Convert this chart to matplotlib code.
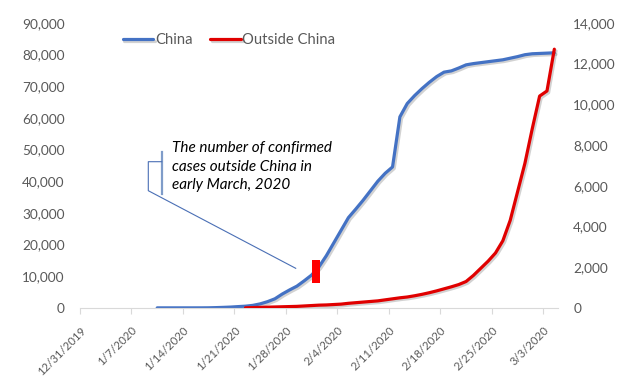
import matplotlib
matplotlib.use("Agg")
import matplotlib.pyplot as plt
import matplotlib.dates as mdates
import matplotlib.patheffects as pe
from matplotlib.lines import Line2D
from matplotlib.patches import Rectangle
from matplotlib.ticker import FuncFormatter, MultipleLocator
from matplotlib.transforms import ScaledTranslation
import pandas as pd

# Confirmed cases, China (left axis), daily from 1/10/2020
china_start = "2020-01-10"
china_cases = [41, 41, 41, 41, 41, 41, 45, 62, 121, 198,
               291, 440, 571, 830, 1300, 2000, 2900, 4400, 5700, 6900,
               8600, 10400, 13000, 16500, 20500, 24500, 28500, 31200, 34000, 37000,
               40000, 42500, 44500, 60300, 64500, 67000, 69200, 71200, 73000, 74400,
               74800, 75700, 76700, 77100, 77400, 77700, 78000, 78300, 78800, 79300,
               79900, 80200, 80300, 80400, 80500]

# Confirmed cases outside China (right axis), daily from 1/22/2020
outside_start = "2020-01-22"
outside_cases = [10, 20, 30, 40, 50, 60, 70, 80, 100, 120,
                 140, 150, 170, 190, 230, 260, 290, 320, 350, 400,
                 450, 500, 540, 600, 670, 750, 840, 940, 1040, 1150,
                 1300, 1600, 1950, 2300, 2700, 3300, 4300, 5700, 7100, 8800,
                 10400, 10650, 12700]

tick_labels = ["12/31/2019", "1/7/2020", "1/14/2020", "1/21/2020", "1/28/2020",
               "2/4/2020", "2/11/2020", "2/18/2020", "2/25/2020", "3/3/2020"]
x_end = "3/5/2020"

note = "The number of confirmed\ncases outside China in\nearly March, 2020"

W, H = 644, 391
plt.rcParams['font.family'] = ['Lato', 'DejaVu Sans']
grey = '#595959'

china_x = mdates.date2num(pd.date_range(china_start, periods=len(china_cases))) + 0.5
out_x = mdates.date2num(pd.date_range(outside_start, periods=len(outside_cases))) + 0.5
tick_x = mdates.date2num(pd.to_datetime(tick_labels, format="%m/%d/%Y"))

fig = plt.figure(figsize=(W / 100, H / 100), dpi=100)
ax = fig.add_axes([80 / W, 83 / H, 478 / W, 285.3 / H])
ax2 = ax.twinx()

shadow = [pe.SimpleLineShadow(offset=(1.2, -1.2), shadow_color='#7f7f7f', alpha=0.35),
          pe.Normal()]
l1, = ax.plot(china_x, china_cases, color='#4472C4', lw=2.3, label='China',
              solid_capstyle='round', solid_joinstyle='round', path_effects=shadow)
l2, = ax2.plot(out_x, outside_cases, color='#E00000', lw=2.3, label='Outside China',
               solid_capstyle='round', solid_joinstyle='round', path_effects=shadow)

ax.set_xlim(tick_x[0], mdates.date2num(pd.to_datetime(x_end, format="%m/%d/%Y")))
ax.set_ylim(0, 90000)
ax2.set_ylim(0, 14000)
ax.yaxis.set_major_locator(MultipleLocator(10000))
ax2.yaxis.set_major_locator(MultipleLocator(2000))
fmt = FuncFormatter(lambda v, p: f"{v:,.0f}")
ax.yaxis.set_major_formatter(fmt)
ax2.yaxis.set_major_formatter(fmt)

ax.set_xticks(tick_x)
ax.set_xticklabels(tick_labels, rotation=45, ha='right', rotation_mode='anchor',
                   fontsize=8.2, color=grey)
off = ScaledTranslation(3 / 100, 0, fig.dpi_scale_trans)
for lbl in ax.get_xticklabels():
    lbl.set_transform(lbl.get_transform() + off)

for a in (ax, ax2):
    for s in a.spines.values():
        s.set_visible(False)
ax.spines['bottom'].set_visible(True)
ax.spines['bottom'].set_color('#D9D9D9')
ax.tick_params(axis='x', length=4, color='#D9D9D9', pad=8)
ax.tick_params(axis='y', length=0, pad=11, labelsize=9.8, labelcolor=grey)
ax2.tick_params(axis='y', length=0, pad=11, labelsize=9.8, labelcolor=grey)

fig.legend(handles=[l1, l2], loc='center', bbox_to_anchor=(229 / W, 1 - 40.3 / H),
           ncol=2, frameon=False, handlelength=2.1, handletextpad=0.1,
           columnspacing=1.2, fontsize=10.6, labelcolor=grey)


def px(x, y):
    return x / W, 1 - y / H


# callout
bar = Line2D(*zip(px(161.7, 151.7), px(161.7, 194)), transform=fig.transFigure,
             color='#7F9CC9', lw=1.6)
conn = Line2D(*zip(px(161.7, 161.7), px(148.3, 161.7), px(148.3, 190.7), px(295.7, 268.3)),
              transform=fig.transFigure, color='#4A6FB5', lw=0.8)
fig.add_artist(bar)
fig.add_artist(conn)
fig.text(*px(172.3, 141), note, ha='left', va='top', fontsize=11, style='italic',
         color='black', linespacing=1.42)

x0, y0 = px(311.7, 283.3)
fig.add_artist(Rectangle((x0, y0), 8.3 / W, 23.3 / H, transform=fig.transFigure,
                         color='#FF0000', lw=0))

fig.savefig("out.png", dpi=100)
